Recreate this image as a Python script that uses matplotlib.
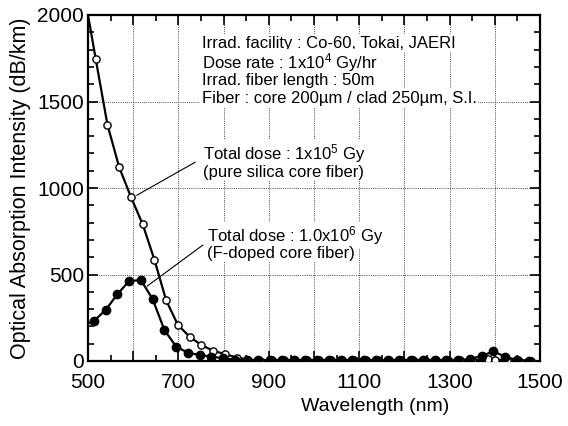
import matplotlib
matplotlib.use("Agg")
import matplotlib.pyplot as plt
from matplotlib.ticker import MultipleLocator, FuncFormatter

plt.rcParams['font.family'] = ['Liberation Sans', 'DejaVu Sans']
plt.rcParams['mathtext.fontset'] = 'custom'
plt.rcParams['mathtext.rm'] = 'Liberation Sans'
plt.rcParams['mathtext.default'] = 'regular'

# pure silica core fiber, 1x10^5 Gy (open circles); first point is the curve start (no marker)
silica_wl = [500, 517, 543, 569, 595, 621, 647, 673, 699, 725, 751, 777, 803, 829, 855, 881,
             907, 933, 959, 985, 1011, 1037, 1063, 1089, 1115, 1141, 1167, 1193, 1219, 1245,
             1271, 1297, 1323, 1349, 1384, 1401, 1427, 1453, 1479]
silica_val = [2000, 1747, 1366, 1120, 948, 790, 585, 350, 208, 140, 92, 59, 40, 20, 8, 2,
              3, 3, 3, 3, 3, 3, 3, 3, 3, 3, 3, 3, 3, 3,
              3, 3, 3, 4, 12, 8, 3, 2, 1]

# F-doped core fiber, 1.0x10^6 Gy (filled circles); first point is the curve start (no marker)
fdoped_wl = [500, 513, 539, 565, 591, 617, 643, 669, 695, 721, 747, 773, 799, 825, 851, 877,
             903, 929, 955, 981, 1007, 1033, 1059, 1085, 1111, 1137, 1163, 1189, 1215, 1241,
             1267, 1293, 1319, 1345, 1371, 1397, 1423, 1449, 1475]
fdoped_val = [218, 231, 295, 386, 462, 468, 358, 179, 83, 48, 35, 25, 16, 8, 6, 6,
              6, 6, 6, 6, 6, 6, 6, 6, 6, 6, 6, 6, 6, 6,
              6, 6, 7, 10, 30, 55, 25, 5, 2]

x_major = [500, 700, 900, 1100, 1300, 1500]
y_major = [0, 500, 1000, 1500, 2000]

fig = plt.figure(figsize=(5.68, 4.26), dpi=100)
ax = fig.add_axes([88/568, 1-361/426, 452/568, 346/426])

ax.plot(silica_wl, silica_val, '-', color='black', lw=1.6, marker='o', ms=5.2,
        mfc='white', mec='black', mew=1.0, markevery=slice(1, None), zorder=3)
ax.plot(fdoped_wl, fdoped_val, '-', color='black', lw=1.6, marker='o', ms=6,
        mfc='black', mec='black', markevery=slice(1, None), zorder=4)

ax.set_xlim(500, 1500)
ax.set_ylim(0, 2000)
ax.xaxis.set_major_locator(MultipleLocator(100))
ax.xaxis.set_minor_locator(MultipleLocator(50))
ax.yaxis.set_major_locator(MultipleLocator(500))
ax.yaxis.set_minor_locator(MultipleLocator(100))
ax.xaxis.set_major_formatter(FuncFormatter(lambda v, p: f"{int(round(v))}" if int(round(v)) in x_major else ""))
ax.yaxis.set_major_formatter(FuncFormatter(lambda v, p: f"{int(round(v))}" if int(round(v)) in y_major else ""))

ax.tick_params(which='both', direction='in', top=True, right=True, width=1.2, labelsize=15)
ax.tick_params(which='major', length=7)
ax.tick_params(which='minor', length=4)
ax.tick_params(axis='x', pad=9)
ax.tick_params(axis='y', pad=3)
for s in ax.spines.values():
    s.set_linewidth(1.6)

ax.grid(True, which='major', color='0.3', lw=0.7, linestyle=(0, (1, 1.2)))
ax.set_axisbelow(True)

ax.set_ylabel('Optical Absorption Intensity (dB/km)', fontsize=15.5)
ax.yaxis.set_label_coords(-0.125, 0.5)
ax.set_xlabel('Wavelength (nm)', fontsize=14)
ax.xaxis.set_label_coords(0.635, -0.107)

fs = 12
bb = dict(facecolor='white', edgecolor='none', pad=1.2)
info = ['Irrad. facility : Co-60, Tokai, JAERI',
        'Dose rate : 1x10$^{4}$ Gy/hr',
        'Irrad. fiber length : 50m',
        'Fiber : core 200µm / clad 250µm, S.I.']
info_y = [0.919, 0.864, 0.812, 0.760]
for t, yy in zip(info, info_y):
    ax.text(0.252, yy, t, transform=ax.transAxes, fontsize=fs, ha='left', va='center',
            bbox=bb, zorder=5)

ax.text(0.254, 0.601, 'Total dose : 1x10$^{5}$ Gy', transform=ax.transAxes, fontsize=fs,
        ha='left', va='center', bbox=bb, zorder=5)
ax.text(0.254, 0.546, '(pure silica core fiber)', transform=ax.transAxes, fontsize=fs,
        ha='left', va='center', bbox=bb, zorder=5)
ax.text(0.263, 0.364, 'Total dose : 1.0x10$^{6}$ Gy', transform=ax.transAxes, fontsize=fs,
        ha='left', va='center', bbox=bb, zorder=5)
ax.text(0.263, 0.312, '(F-doped core fiber)', transform=ax.transAxes, fontsize=fs,
        ha='left', va='center', bbox=bb, zorder=5)

ax.plot([737, 608], [1149, 958], color='black', lw=0.8, zorder=5)
ax.plot([754, 631], [670, 433], color='black', lw=0.8, zorder=5)

fig.savefig('out.png', dpi=100)
